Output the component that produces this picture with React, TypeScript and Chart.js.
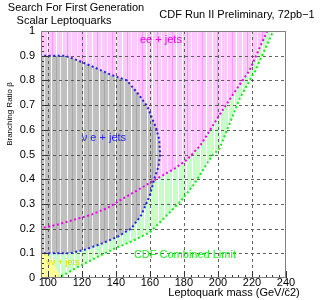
import { useEffect, useRef } from "react";
import { Chart, registerables } from "chart.js";

Chart.register(...registerables);

const xTicks = [100, 120, 140, 160, 180, 200, 220, 240];
const yTicks = [0, 0.1, 0.2, 0.3, 0.4, 0.5, 0.6, 0.7, 0.8, 0.9, 1];

// CDF combined limit (green)
const cdfMass = [95, 106, 110, 118, 130, 140, 150, 160, 168, 178, 186, 196, 201, 213, 222, 232.5];
const cdfBeta = [0, 0, 0.015, 0.046, 0.088, 0.122, 0.15, 0.185, 0.24, 0.31, 0.38, 0.49, 0.525, 0.73, 0.84, 1.0];

// ee + jets (magenta)
const eeMass = [95, 105, 115, 125, 135, 145, 155, 165, 175, 182, 190, 200, 210, 218.5, 229];
const eeBeta = [0.2, 0.215, 0.235, 0.255, 0.283, 0.325, 0.365, 0.405, 0.445, 0.48, 0.54, 0.65, 0.755, 0.84, 1.0];

// nu e + jets (blue closed contour)
const nueMass = [95, 113, 122, 132, 141, 149, 155, 160, 163, 165, 166, 165.5, 163.5, 158.5, 153.5, 146.5, 137, 126, 118, 110, 95, 95];
const nueBeta = [0.1, 0.1, 0.115, 0.14, 0.167, 0.2, 0.255, 0.335, 0.41, 0.45, 0.5, 0.56, 0.61, 0.695, 0.742, 0.8, 0.823, 0.857, 0.88, 0.9, 0.9, 0.1];

// nu nu + jets (yellow)
const nunuMass = [95, 99.5, 104, 108];
const nunuBeta = [0.1, 0.1, 0.05, 0];

const labels = [
  { text: "ee + jets", x: 166.5, y: 0.965, color: "#ee00ee", size: 11 },
  { text: "\u03bd e + jets", x: 133, y: 0.566, color: "#2222ee", size: 11 },
  { text: "CDF Combined Limit", x: 180.6, y: 0.094, color: "#22ee22", size: 11 },
  { text: "\u03bd\u03bd + jets", x: 108.8, y: 0.061, color: "#dddd00", size: 9 },
];

const pts = (xs: number[], ys: number[]) => xs.map((x, i) => ({ x, y: ys[i] }));

function makePattern(base: string, stripes: [number, string][], w: number) {
  const c = document.createElement("canvas");
  c.width = w;
  c.height = 4;
  const g = c.getContext("2d")!;
  g.fillStyle = base;
  g.fillRect(0, 0, w, 4);
  for (const [x, col] of stripes) {
    g.fillStyle = col;
    g.fillRect(x, 0, 1, 4);
  }
  const p = g.createPattern(c, "repeat");
  return p || base;
}

const FONT = "'Liberation Sans', Arial, sans-serif";

export default function App() {
  const ref = useRef<HTMLCanvasElement>(null);
  useEffect(() => {
    if (!ref.current) return;
    const pink = makePattern("#ffc8ff", [[2, "#ffffff"], [7, "#ff99ff"], [11, "#ffffff"]], 15);
    const gray = makePattern("#c0c0c0", [[3, "#ffffff"], [8, "#a8a8a8"], [12, "#f0f0f0"]], 16);
    const green = makePattern("#c8ffc8", [[4, "#ffffff"], [10, "#ffffff"]], 14);
    const yellow = makePattern("#ffff99", [[3, "#ffffff"]], 8);

    const decor = {
      id: "decor",
      beforeDatasetsDraw(chart: any) {
        const { ctx, chartArea: a, scales } = chart;
        ctx.save();
        ctx.strokeStyle = "rgba(70,70,70,0.85)";
        ctx.lineWidth = 1;
        ctx.setLineDash([3, 3]);
        for (const v of xTicks) {
          const px = Math.round(scales.x.getPixelForValue(v)) + 0.5;
          if (px <= a.left + 1 || px >= a.right - 1) continue;
          ctx.beginPath();
          ctx.moveTo(px, a.top);
          ctx.lineTo(px, a.bottom);
          ctx.stroke();
        }
        for (const v of yTicks) {
          const py = Math.round(scales.y.getPixelForValue(v)) + 0.5;
          if (py <= a.top + 1 || py >= a.bottom - 1) continue;
          ctx.beginPath();
          ctx.moveTo(a.left, py);
          ctx.lineTo(a.right, py);
          ctx.stroke();
        }
        ctx.restore();
      },
      afterDraw(chart: any) {
        const { ctx, chartArea: a, scales } = chart;
        ctx.save();
        // ticks
        ctx.strokeStyle = "#333";
        ctx.lineWidth = 1;
        for (let i = 0; i <= 50; i++) {
          const v = i * 0.02;
          const py = Math.round(scales.y.getPixelForValue(v)) + 0.5;
          const len = i % 5 === 0 ? 7 : 3;
          ctx.beginPath();
          ctx.moveTo(a.left, py);
          ctx.lineTo(a.left + len, py);
          ctx.stroke();
        }
        for (let v = 96; v <= 240; v += 4) {
          const px = Math.round(scales.x.getPixelForValue(v)) + 0.5;
          const len = v % 20 === 0 ? 7 : 3;
          ctx.beginPath();
          ctx.moveTo(px, a.bottom);
          ctx.lineTo(px, a.bottom - len);
          ctx.stroke();
        }
        // frame
        ctx.strokeStyle = "#808080";
        ctx.strokeRect(a.left + 0.5, a.top + 0.5, a.right - a.left - 1, a.bottom - a.top - 1);
        // in-plot labels
        ctx.textAlign = "center";
        ctx.textBaseline = "middle";
        for (const l of labels) {
          ctx.fillStyle = l.color;
          ctx.font = `${l.size}px ${FONT}`;
          ctx.fillText(l.text, scales.x.getPixelForValue(l.x), scales.y.getPixelForValue(l.y));
        }
        // titles
        ctx.fillStyle = "#000";
        ctx.font = `11px ${FONT}`;
        ctx.fillText("Search For First Generation", 76, 8);
        ctx.fillText("Scalar Leptoquarks", 64, 21);
        ctx.fillText("CDF Run II Preliminary, 72pb\u22121", 237, 15);
        ctx.fillText("Leptoquark mass (GeV/\u010d2)", 234, 293);
        ctx.save();
        ctx.translate(10, 114);
        ctx.rotate(-Math.PI / 2);
        ctx.font = `8px ${FONT}`;
        ctx.fillText("Branching Ratio \u03b2", 0, 0);
        ctx.restore();
        ctx.restore();
      },
    };

    const line = (data: any, color: string, bg: any, fill: any, order: number) => ({
      data,
      showLine: true,
      borderColor: color,
      backgroundColor: bg,
      borderWidth: color === "transparent" ? 0 : 2,
      borderDash: [2, 2.5],
      pointRadius: 0,
      fill,
      order,
      tension: 0,
    });

    const chart = new Chart(ref.current, {
      type: "scatter",
      data: {
        datasets: [
          line(pts(nunuMass, nunuBeta), "transparent", yellow, "origin", 1),
          line(pts(nueMass, nueBeta), "#2020ee", gray, "shape", 2),
          line(pts(eeMass, eeBeta), "#ee00ee", pink, "end", 3),
          line(pts(cdfMass, cdfBeta), "#11ee11", green, "end", 4),
        ],
      },
      options: {
        responsive: false,
        animation: false,
        layout: { padding: { top: 31, right: 41, left: 0, bottom: 0 } },
        plugins: {
          legend: { display: false },
          tooltip: { enabled: false },
          filler: { drawTime: "beforeDatasetsDraw" },
        } as any,
        scales: {
          x: {
            type: "linear",
            min: 96,
            max: 240,
            grid: { display: false, drawTicks: false },
            border: { display: false },
            afterBuildTicks: (axis: any) => {
              axis.ticks = xTicks.map((v) => ({ value: v }));
            },
            afterFit: (axis: any) => {
              axis.height = 22;
            },
            ticks: {
              color: "#000",
              font: { family: FONT, size: 11 },
              padding: -2,
              maxRotation: 0,
              autoSkip: false,
              callback: (v: any) => String(v),
            },
          },
          y: {
            type: "linear",
            min: 0,
            max: 1,
            grid: { display: false, drawTicks: false },
            border: { display: false },
            afterBuildTicks: (axis: any) => {
              axis.ticks = yTicks.map((v) => ({ value: v }));
            },
            afterFit: (axis: any) => {
              axis.width = 41;
            },
            ticks: {
              color: "#000",
              font: { family: FONT, size: 11 },
              padding: 6,
              autoSkip: false,
              callback: (v: any) => String(Math.round(v * 10) / 10),
            },
          },
        },
      },
      plugins: [decor],
    });
    return () => chart.destroy();
  }, []);
  return (
    <div style={{ position: "absolute", left: 0, top: 0, width: 327, height: 300, background: "#fff" }}>
      <canvas ref={ref} width={327} height={300} />
    </div>
  );
}
